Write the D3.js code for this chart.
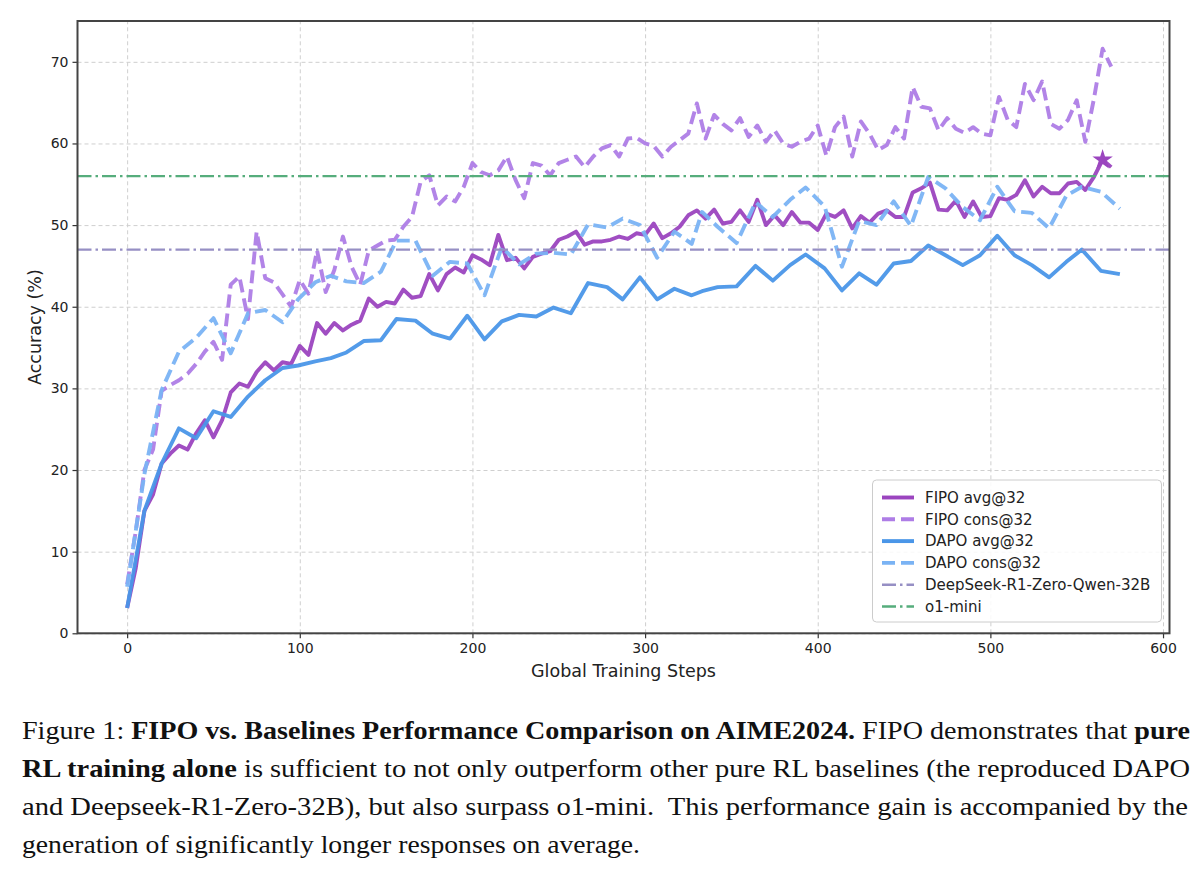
<!DOCTYPE html>
<html><head><meta charset="utf-8">
<script src="https://cdn.jsdelivr.net/npm/d3@7"></script>
<style>html,body{margin:0;padding:0;background:#fff;} svg{display:block;}</style>
</head><body>
<svg id="chart" width="1200" height="871"></svg>
<script>
// ---------- data ----------
const fipoSteps = [0,5,10,15,20,25,30,35,40,45,50,55,60,65,70,75,80,85,90,95,
 100,105,110,115,120,125,130,135,140,145,150,155,160,165,170,175,180,185,190,195,
 200,205,210,215,220,225,230,235,240,245,250,255,260,265,270,275,280,285,290,295,
 300,305,310,315,320,325,330,335,340,345,350,355,360,365,370,375,380,385,390,395,
 400,405,410,415,420,425,430,435,440,445,450,455,460,465,470,475,480,485,490,495,
 500,505,510,515,520,525,530,535,540,545,550,555,560,565,570];
const fipoAvg = [3.1,8.0,15.0,17.0,20.8,22.0,23.0,22.5,24.5,26.1,
 24.0,26.1,29.5,30.6,30.2,32.0,33.2,32.2,33.2,33.0,
 35.2,34.1,38.0,36.7,38.0,37.1,37.8,38.3,41.0,40.0,
 40.6,40.4,42.1,41.1,41.3,44.0,42.0,44.0,44.8,44.2,
 46.3,45.8,45.1,48.8,45.7,46.0,44.7,46.1,46.5,46.8,
 48.2,48.6,49.2,47.6,48.0,48.0,48.2,48.6,48.3,49.0,
 48.8,50.2,48.4,49.0,49.8,51.2,51.8,50.8,51.9,50.2,
 50.4,51.8,50.4,53.1,50.0,51.2,50.0,51.6,50.3,50.3,
 49.4,51.4,51.0,51.8,49.6,51.1,50.3,51.4,51.8,51.0,
 51.0,54.0,54.5,55.2,51.9,51.8,53.0,51.0,52.9,51.0,
 51.1,53.3,53.1,53.7,55.5,53.5,54.7,53.9,53.9,55.1,
 55.3,54.3,55.9,58.0,57.1];
const fipoCons = [6.0,12.5,20.0,22.5,29.7,30.4,31.0,31.8,33.0,34.5,
 35.7,33.5,42.7,43.7,38.5,49.2,43.5,43.0,41.5,40.0,
 43.3,41.6,46.9,41.8,44.5,48.6,44.9,42.7,46.9,47.5,
 48.1,48.2,49.8,51.0,55.3,56.1,52.4,53.5,52.9,54.7,
 57.6,56.5,56.1,56.7,58.4,55.5,53.3,57.6,57.3,56.1,
 57.6,58.0,58.4,57.1,58.4,59.4,59.8,58.4,60.6,60.7,
 60.0,59.7,58.4,59.6,60.4,61.2,64.9,60.6,63.5,62.4,
 61.6,63.1,60.8,62.2,60.2,61.6,60.0,59.6,60.2,60.6,
 62.2,58.5,62.0,63.3,58.4,62.7,61.2,59.2,59.8,62.0,
 60.6,66.9,64.5,64.3,61.6,63.1,61.8,61.3,62.0,61.2,
 61.0,65.7,62.9,62.0,67.3,65.3,67.6,62.4,61.8,62.9,
 65.3,60.2,65.5,71.6,69.4];
const dapoSteps = [0,10,20,30,40,50,60,70,80,90,
 99,109,118,127,137,147,156,167,177,187,
 197,207,217,227,237,247,257,267,278,287,
 297,307,317,327,333,342,353,364,374,384,
 393,404,414,424,434,444,454,464,474,484,
 494,504,514,524,534,544,553,564,575];
const dapoAvg = [3.1,15.0,20.8,25.1,23.9,27.2,26.5,29.0,31.0,32.5,
 32.8,33.3,33.7,34.4,35.8,35.9,38.5,38.3,36.7,36.1,
 38.9,36.0,38.2,39.0,38.8,39.9,39.2,42.9,42.4,40.9,
 43.6,40.9,42.2,41.4,41.9,42.4,42.5,45.0,43.2,45.1,
 46.4,44.7,42.0,44.1,42.7,45.3,45.6,47.5,46.3,45.1,
 46.3,48.7,46.3,45.1,43.6,45.5,47.0,44.4,44.0];
const dapoCons = [5.7,19.5,29.8,34.5,36.2,38.6,34.3,39.2,39.6,38.1,
 40.9,43.0,43.8,43.1,42.9,44.3,48.1,48.1,43.8,45.5,
 45.3,41.4,47.3,45.2,46.5,46.6,46.4,50.1,49.7,50.8,
 50.0,46.0,49.2,47.7,51.6,49.8,47.8,52.8,51.0,53.1,
 54.6,52.3,44.9,50.5,50.0,52.9,49.9,55.9,54.5,52.2,
 50.6,54.7,51.7,51.5,49.6,53.6,54.7,54.1,52.0];
const deepseekLevel = 47.0;
const o1MiniLevel = 56.0;
const starStep = 565, starValue = 58.0;
const xTicks = [0,100,200,300,400,500,600];
const yTicks = [0,10,20,30,40,50,60,70];
const legendLabels = ["FIPO avg@32","FIPO cons@32","DAPO avg@32","DAPO cons@32","DeepSeek-R1-Zero-Qwen-32B","o1-mini"];
const xLabel = "Global Training Steps";
const yLabel = "Accuracy (%)";
const captionLines = [
 [["Figure 1: ",false],["FIPO vs. Baselines Performance Comparison on AIME2024.",true],[" FIPO demonstrates that ",false],["pure",true]],
 [["RL training alone",true],[" is sufficient to not only outperform other pure RL baselines (the reproduced DAPO",false]],
 [["and Deepseek-R1-Zero-32B), but also surpass o1-mini.  This performance gain is accompanied by the",false]],
 [["generation of significantly longer responses on average.",false]]
];

// ---------- styles ----------
const C = {fipoAvg:"#9b45bf", fipoCons:"#ae7de6", dapoAvg:"#4a96e8", dapoCons:"#7ab3f4", deep:"#968fc4", o1:"#56ad7c"};
const series = [
 {steps:fipoSteps, vals:fipoAvg, color:C.fipoAvg, dash:null, w:3.9},
 {steps:fipoSteps, vals:fipoCons, color:C.fipoCons, dash:"13,6", w:3.9},
 {steps:dapoSteps, vals:dapoAvg, color:C.dapoAvg, dash:null, w:3.9},
 {steps:dapoSteps, vals:dapoCons, color:C.dapoCons, dash:"13,6", w:3.9}
];
const hlines = [
 {level:deepseekLevel, color:C.deep},
 {level:o1MiniLevel, color:C.o1}
];
const hDash = "14,4,2.5,4";

const svg = d3.select("#chart");
svg.append("rect").attr("width",1200).attr("height",871).attr("fill","#fff");

const L=77.5, R=1169.5, T=21, B=633.3;
const x = d3.scaleLinear().domain([-28.75, 603.75]).range([L, R]);
const y = d3.scaleLinear().domain([0, 75]).range([B, T]);

// grid
const grid = svg.append("g");
grid.append("g").attr("transform",`translate(0,${B})`)
  .call(d3.axisBottom(x).tickValues(xTicks).tickSize(-(B-T)).tickFormat(""))
  .call(g=>{g.select(".domain").remove(); g.selectAll("line").attr("stroke","#cfcfcf").attr("stroke-dasharray","4,3").attr("stroke-width",1);});
grid.append("g").attr("transform",`translate(${L},0)`)
  .call(d3.axisLeft(y).tickValues(yTicks).tickSize(-(R-L)).tickFormat(""))
  .call(g=>{g.select(".domain").remove(); g.selectAll("line").attr("stroke","#cfcfcf").attr("stroke-dasharray","4,3").attr("stroke-width",1);});

// clip
svg.append("clipPath").attr("id","clip").append("rect").attr("x",L).attr("y",T).attr("width",R-L).attr("height",B-T);
const plot = svg.append("g").attr("clip-path","url(#clip)");

const line = d3.line().x(d=>x(d[0])).y(d=>y(d[1]));
series.forEach(s=>{
  plot.append("path").datum(d3.zip(s.steps, s.vals))
    .attr("d", line).attr("fill","none").attr("stroke", s.color)
    .attr("stroke-width", s.w).attr("stroke-linejoin","round")
    .attr("stroke-dasharray", s.dash).attr("stroke-opacity",0.95);
});
hlines.forEach(h=>{
  plot.append("line").attr("x1",x(-28.75)).attr("x2",x(603.75))
    .attr("y1",y(h.level)).attr("y2",y(h.level))
    .attr("stroke",h.color).attr("stroke-width",2.4).attr("stroke-dasharray",hDash);
});
plot.append("path").attr("d", d3.symbol().type(d3.symbolStar).size(130)())
  .attr("transform",`translate(${x(starStep)},${y(starValue)})`).attr("fill",C.fipoAvg);

// axes
const axX = svg.append("g").attr("transform",`translate(0,${B})`)
  .call(d3.axisBottom(x).tickValues(xTicks).tickSize(5).tickPadding(5));
const axY = svg.append("g").attr("transform",`translate(${L},0)`)
  .call(d3.axisLeft(y).tickValues(yTicks).tickSize(5).tickPadding(4));
[axX, axY].forEach(a=>{
  a.select(".domain").remove();
  a.selectAll("line").attr("stroke","#333").attr("stroke-width",1.2);
  a.selectAll("text").attr("font-family","DejaVu Sans").attr("font-size",14).attr("fill","#222");
});
svg.append("rect").attr("x",L).attr("y",T).attr("width",R-L).attr("height",B-T)
  .attr("fill","none").attr("stroke","#444").attr("stroke-width",2);

svg.append("text").attr("x",(L+R)/2).attr("y",677).attr("text-anchor","middle")
  .attr("font-family","DejaVu Sans").attr("font-size",17.5).attr("fill","#222").text(xLabel);
svg.append("text").attr("transform",`translate(41,${(T+B)/2}) rotate(-90)`).attr("text-anchor","middle")
  .attr("font-family","DejaVu Sans").attr("font-size",17.5).attr("fill","#222").text(yLabel);

// legend
const lg = svg.append("g");
lg.append("rect").attr("x",872.5).attr("y",480).attr("width",289).attr("height",142).attr("rx",4)
  .attr("fill","#fff").attr("fill-opacity",0.85).attr("stroke","#cccccc").attr("stroke-width",1);
const legendStyles = [
 {color:C.fipoAvg, dash:null, w:3.9},
 {color:C.fipoCons, dash:"13,6", w:3.9},
 {color:C.dapoAvg, dash:null, w:3.9},
 {color:C.dapoCons, dash:"13,6", w:3.9},
 {color:C.deep, dash:hDash, w:2.4},
 {color:C.o1, dash:hDash, w:2.4}
];
legendLabels.forEach((lab,i)=>{
  const yy = 497.5 + i*21.8;
  const st = legendStyles[i];
  lg.append("line").attr("x1",882).attr("x2",914).attr("y1",yy).attr("y2",yy)
    .attr("stroke",st.color).attr("stroke-width",st.w).attr("stroke-dasharray",st.dash);
  lg.append("text").attr("x",925).attr("y",yy).attr("dy","0.35em")
    .attr("font-family","DejaVu Sans").attr("font-size",15).attr("fill","#222").text(lab);
});

// caption
const capY = [739, 777, 815, 853];
const capLen = [1168, 1168, 1166, 618];
captionLines.forEach((segs,i)=>{
  const t = svg.append("text").attr("x",22).attr("y",capY[i])
    .attr("font-family","Liberation Serif").attr("font-size",25.5).attr("fill","#111")
    .attr("textLength",capLen[i]).attr("lengthAdjust","spacingAndGlyphs")
    .style("white-space","pre");
  segs.forEach(s=>{
    t.append("tspan").attr("font-weight", s[1] ? "bold" : "normal").text(s[0]);
  });
});
</script>
</body></html>
